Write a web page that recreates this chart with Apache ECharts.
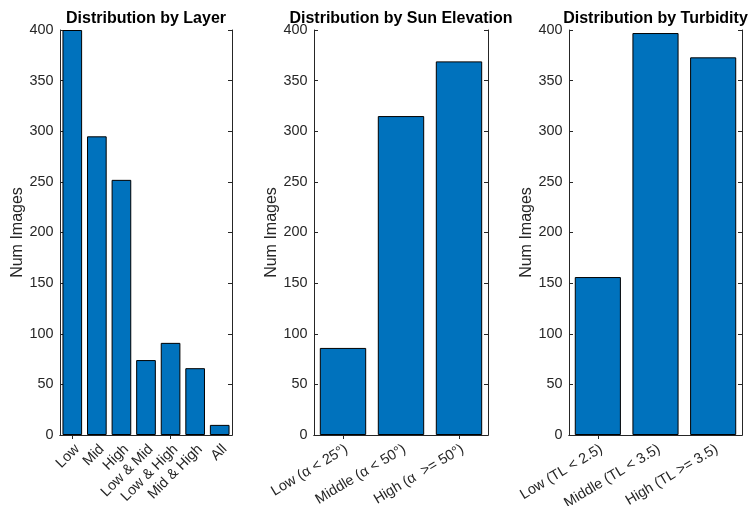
<!DOCTYPE html>
<html>
<head>
<meta charset="utf-8">
<script src="https://cdn.jsdelivr.net/npm/echarts@6/dist/echarts.min.js"></script>
<style>
  html, body { margin: 0; padding: 0; background: #fff; }
  #chart { width: 748px; height: 506px; }
</style>
</head>
<body>
<div id="chart"></div>
<script>
// Image counts split three ways
const layerCategories = ['Low', 'Mid', 'High', 'Low & Mid', 'Low & High', 'Mid & High', 'All'];
const layerCounts = [400, 295, 252, 74, 91, 66, 10];

const sunCategories = ['Low (α < 25°)', 'Middle (α < 50°)', 'High (α  >= 50°)'];
const sunCounts = [86, 315, 369];

const turbidityCategories = ['Low (TL < 2.5)', 'Middle (TL < 3.5)', 'High (TL >= 3.5)'];
const turbidityCounts = [156, 397, 373];

const panelTitles = ['Distribution by Layer', 'Distribution by Sun Elevation', 'Distribution by Turbidity'];
const yTicks = [0, 50, 100, 150, 200, 250, 300, 350, 400];
const yLabel = 'Num Images';

const INK = '#262626';
const BAR = '#0072BD';
const FONT = '"Liberation Sans", Arial, Helvetica, sans-serif';
const TICK_FONT = 14.4;
const LABEL_FONT = 16;

const panels = [
  { cats: layerCategories, vals: layerCounts, left: 60, width: 172, rotate: 45 },
  { cats: sunCategories, vals: sunCounts, left: 314, width: 174, rotate: 31 },
  { cats: turbidityCategories, vals: turbidityCounts, left: 569, width: 173, rotate: 31 }
];

const grids = [], xAxes = [], yAxes = [], series = [], titles = [];
const lineStyle = { color: INK, width: 1 };

panels.forEach((p, i) => {
  grids.push({
    left: p.left, top: 30, width: p.width, height: 405,
    containLabel: false, outerBoundsMode: 'none'
  });
  // bottom category axis; rotated labels hang from their top-right corner
  xAxes.push({
    type: 'category', gridIndex: i, data: p.cats, position: 'bottom',
    axisLine: { show: true, lineStyle },
    axisTick: { show: true, inside: true, alignWithLabel: true, length: 4, lineStyle },
    axisLabel: {
      rotate: p.rotate, color: INK, fontFamily: FONT, fontSize: TICK_FONT,
      margin: 7, interval: 0, align: 'right', verticalAlign: 'top'
    },
    splitLine: { show: false }
  });
  // top edge of the box
  xAxes.push({
    type: 'category', gridIndex: i, data: p.cats, position: 'top',
    axisLine: { show: true, lineStyle },
    axisTick: { show: true, inside: true, alignWithLabel: true, length: 4, lineStyle },
    axisLabel: { show: false }, splitLine: { show: false }
  });
  yAxes.push({
    type: 'value', gridIndex: i, min: yTicks[0], max: yTicks[yTicks.length - 1], interval: 50,
    position: 'left',
    name: yLabel, nameLocation: 'middle', nameGap: 31, nameRotate: 90,
    nameTextStyle: { color: INK, fontFamily: FONT, fontSize: LABEL_FONT },
    axisLine: { show: true, lineStyle },
    axisTick: { show: true, inside: true, length: 4, lineStyle },
    axisLabel: { color: INK, fontFamily: FONT, fontSize: TICK_FONT, margin: 6.5 },
    splitLine: { show: false }
  });
  // right edge of the box
  yAxes.push({
    type: 'value', gridIndex: i, min: yTicks[0], max: yTicks[yTicks.length - 1], interval: 50,
    position: 'right',
    axisLine: { show: true, lineStyle },
    axisTick: { show: true, inside: true, length: 4, lineStyle },
    axisLabel: { show: false }, splitLine: { show: false }
  });
  series.push({
    type: 'bar', xAxisIndex: i * 2, yAxisIndex: i * 2, data: p.vals,
    barWidth: '80%',
    itemStyle: { color: BAR, borderColor: '#000', borderWidth: 1 },
    silent: true
  });
  titles.push({
    text: panelTitles[i],
    left: p.left + p.width / 2, top: 11, textAlign: 'center', padding: 0,
    textStyle: { color: '#000', fontFamily: FONT, fontSize: LABEL_FONT, fontWeight: 'bold' }
  });
});

const chart = echarts.init(document.getElementById('chart'), null, { renderer: 'canvas' });
chart.setOption({
  animation: false,
  backgroundColor: '#fff',
  title: titles,
  grid: grids,
  xAxis: xAxes,
  yAxis: yAxes,
  series: series
});
</script>
</body>
</html>
